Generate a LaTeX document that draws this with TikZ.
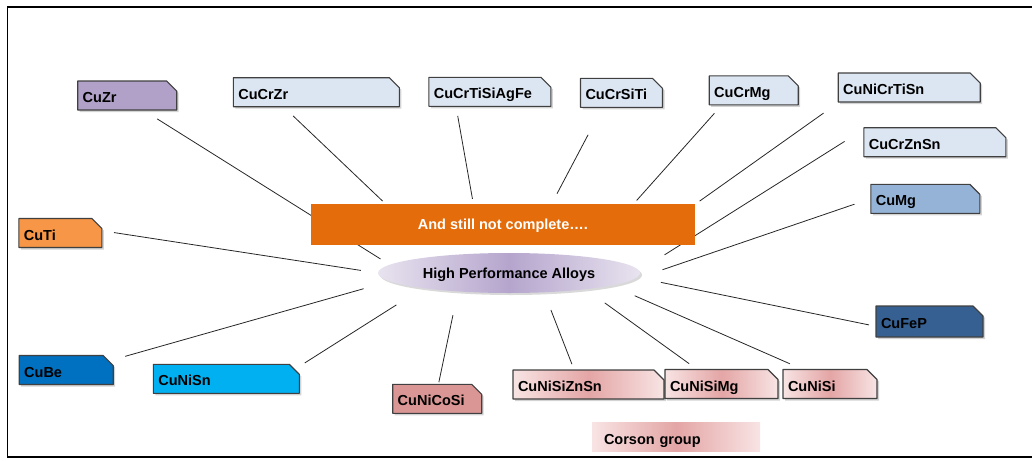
\documentclass[tikz,border=0pt]{standalone}
\usepackage{fontspec}
\setmainfont{Liberation Sans}
\usepackage{tikz}
\usetikzlibrary{shapes.misc,shapes.geometric,shadows}
\definecolor{zrpurple}{HTML}{B1A0C7}
\definecolor{crblue}{HTML}{DCE6F2}
\definecolor{mgblue}{HTML}{95B3D7}
\definecolor{tiorange}{HTML}{F79646}
\definecolor{fepblue}{HTML}{376092}
\definecolor{beblue}{HTML}{0070C0}
\definecolor{snblue}{HTML}{00B0F0}
\definecolor{cosirose}{HTML}{D99694}
\definecolor{corsonlt}{HTML}{F8E4E4}
\definecolor{corsondk}{HTML}{E4A5A5}
\definecolor{notebar}{HTML}{E46C0A}
\definecolor{hubedge}{HTML}{E8E3EF}
\definecolor{hubmid}{HTML}{B5A5CD}
\pgfdeclarelayer{back}
\pgfsetlayers{back,main}
\tikzset{
  every picture/.style={line join=round, line cap=round},
  txt/.style={font=\fontsize{14.5}{17}\selectfont\bfseries},
  alloy/.style={txt, chamfered rectangle, chamfered rectangle corners=north east,
    chamfered rectangle xsep=5pt, chamfered rectangle ysep=5pt,
    draw=black!75, line width=1.1pt, inner xsep=0pt, inner ysep=0pt,
    minimum height=29pt, text height=14pt, text depth=0pt, align=left,
    drop shadow={shadow xshift=2pt, shadow yshift=-2pt, opacity=0.35}},
  corson/.style={left color=corsonlt, right color=corsonlt, middle color=corsondk},
  spoke/.style={line width=0.8pt, black!85},
}

\begin{document}
\begin{tikzpicture}[x=1pt,y=-1pt]
\useasboundingbox (0,0) rectangle (1032,460);
% frame, open to the right
\draw[line width=1.8pt, line cap=butt, line join=miter] (1032,7) -- (7.5,7) -- (7.5,457) -- (1032,457);
% top row
\node[alloy, fill=zrpurple, text width=89pt] (zr) at (127.2,95.5) {CuZr};
\node[alloy, fill=crblue, text width=156pt] (crzr) at (316.3,92.2) {CuCrZr};
\node[alloy, fill=crblue, text width=112pt] (agfe) at (489.9,91.8) {CuCrTiSiAgFe};
\node[alloy, fill=crblue, text width=72pt] (crsiti) at (621.5,92.9) {CuCrSiTi};
\node[alloy, fill=crblue, text width=79pt] (crmg) at (753.7,90.4) {CuCrMg};
\node[alloy, fill=crblue, text width=132pt] (nicrtisn) at (909.2,87.5) {CuNiCrTiSn};
% right side
\node[alloy, fill=crblue, text width=132pt] (crznsn) at (934.9,142.2) {CuCrZnSn};
\node[alloy, fill=mgblue, text width=99pt] (mg) at (925.3,198.8) {CuMg};
\node[alloy, fill=fepblue, text width=97pt, minimum height=31pt] (fep) at (929.5,321.5) {CuFeP};
% left side and bottom
\node[alloy, fill=tiorange, text width=73pt] (ti) at (60.4,233) {CuTi};
\node[alloy, fill=beblue, text width=84pt] (be) at (66.2,370) {CuBe};
\node[alloy, fill=snblue, text width=136pt] (nisn) at (226.3,378.8) {CuNiSn};
\node[alloy, fill=cosirose, text width=79pt] (nicosi) at (437.2,398.8) {CuNiCoSi};
\node[alloy, corson, text width=141pt] (nisiznsn) at (588.5,384.5) {CuNiSiZnSn};
\node[alloy, corson, text width=103pt] (nisimg) at (721.5,384) {CuNiSiMg};
\node[alloy, corson, text width=84pt] (nisi) at (830,384) {CuNiSi};
\node[txt, corson, text width=144pt, inner xsep=12pt, inner ysep=0pt, minimum height=29pt,
  text height=14pt, text depth=0pt, align=left] (group) at (676,437) {Corson group};
% centre
\node[txt, ellipse, minimum width=262pt, minimum height=40pt, inner sep=2pt,
  left color=hubedge, right color=hubedge, middle color=hubmid,
  text height=10.4pt, text depth=0pt,
  drop shadow={shadow xshift=2pt, shadow yshift=-2pt, opacity=0.3}] (hub) at (509,273) {High Performance Alloys};
\node[txt, fill=notebar, text=white, minimum width=384pt, minimum height=41pt, inner sep=0pt,
  text height=10.4pt, text depth=0pt] (note) at (502.9,224.5) {And still not complete….};
% spokes, kept under the bar
\begin{pgfonlayer}{back}
\foreach \a/\p/\s/\b/\q/\t in {zr/318/15.6/hub/176/10.7, crzr/205.2/12.6/note/170.9/4,
    agfe/204.5/9.1/note/145.1/5, crsiti/218.2/30.3/note/23.3/11.4,
    crmg/205/10.6/note/9.3/4.5, nicrtisn/192.4/18.2/note/6.3/5.5,
    crznsn/170.9/22.2/hub/1.9/29.7, mg/180.8/16.6/hub/356.2/36,
    fep/185.2/6.6/hub/358.7/24.5, nisi/152.3/12.9/hub/353.5/25.3,
    nisimg/149.3/8.9/hub/348.9/23.2, nisiznsn/134.6/5.7/hub/331.9/18.8,
    nicosi/85.7/1.6/hub/200.4/24.1, nisn/8.2/11.6/hub/190.2/31.2,
    be/12.1/16.5/hub/184.2/27, ti/3/11.7/hub/180.9/17.2}
  \draw[spoke, shorten <=\s pt, shorten >=\t pt] (\a.\p) -- (\b.\q);
\end{pgfonlayer}
\end{tikzpicture}
\end{document}
